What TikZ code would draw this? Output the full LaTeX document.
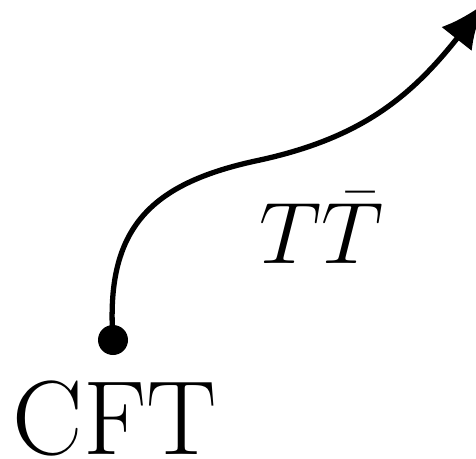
\documentclass[tikz,border=0pt]{standalone}
\usetikzlibrary{arrows.meta}
\begin{document}
\begin{tikzpicture}
        \useasboundingbox (0,0) rectangle (4.76,4.58);
        \node[circle, fill, inner sep=0pt, minimum size=0.3cm] (cft) at (1.13,1.18) {};
        \node[font=\fontsize{30}{36}\selectfont] (cftlabel) at (1.15,0.4) {CFT};
        \coordinate (mid) at (2.6,2.98);
        \coordinate (tip) at (4.85,4.55);
        \draw[-{Latex[length=13pt,width=11pt]}, line width=1.5pt] (cft.center) .. controls (1.05,2.3) and (1.5,2.75) .. (mid)
            .. controls (3.6,3.2) and (4.1,3.6) .. (tip);
        \node[font=\fontsize{30}{36}\selectfont] (flow) at (3.22,2.3) {$T\bar{T}$};
    \end{tikzpicture}
\end{document}
